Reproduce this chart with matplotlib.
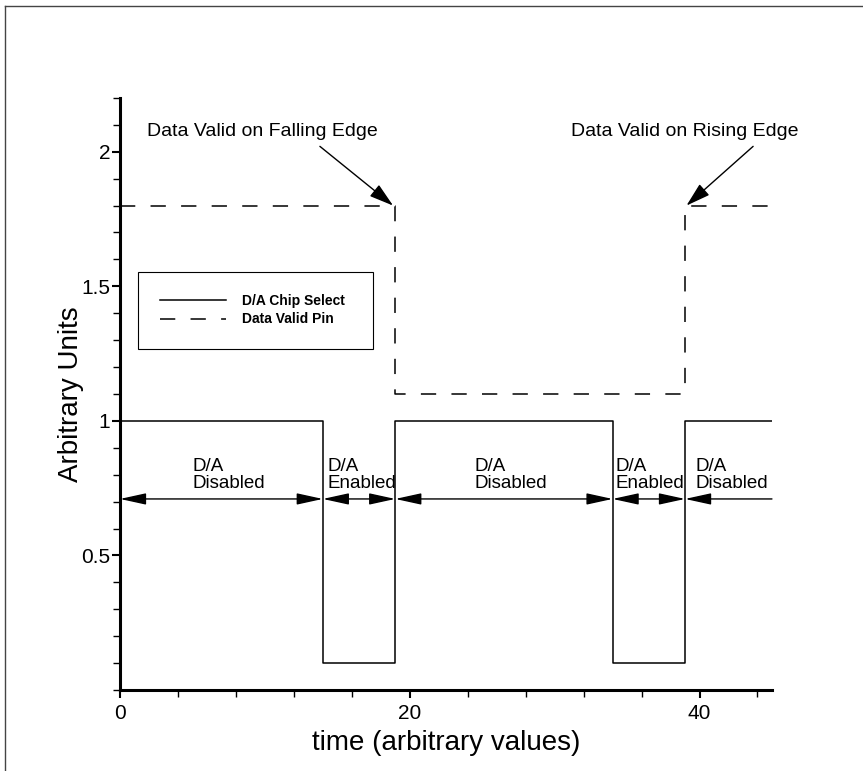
import numpy as np
import matplotlib
matplotlib.use('Agg')
import matplotlib.pyplot as plt
from matplotlib.lines import Line2D
from matplotlib.ticker import MultipleLocator, FuncFormatter

plt.rcParams['font.family'] = ['Liberation Sans', 'DejaVu Sans']

# signal data
t_select = [0, 14, 14, 19, 19, 34, 34, 39, 39, 45]
v_select = [1.0, 1.0, 0.1, 0.1, 1.0, 1.0, 0.1, 0.1, 1.0, 1.0]
t_valid = [0, 19, 19, 39, 39, 45]
v_valid = [1.8, 1.8, 1.1, 1.1, 1.8, 1.8]

# state spans (dimension arrows) and their labels
span_edges = [0, 14, 19, 34, 39]
span_end = 45
arrow_y = 0.71
state_labels = ["D/A\nDisabled", "D/A\nEnabled", "D/A\nDisabled", "D/A\nEnabled", "D/A\nDisabled"]
label_x = [5.0, 14.3, 24.5, 34.2, 39.7]
label_y = 0.735

fig = plt.figure(figsize=(8.63, 7.71), dpi=100)
ax = fig.add_axes([0.139, 0.105, 0.7555, 0.768])

ax.plot(t_select, v_select, color='black', lw=1.1, label='D/A Chip Select')
ax.plot(t_valid, v_valid, color='black', lw=1.1, dashes=[10, 10], label='Data Valid Pin')

head = dict(shrinkA=0, shrinkB=0, lw=1.0, color='black', mutation_scale=10)
for a, b in zip(span_edges[:-1], span_edges[1:]):
    ax.annotate('', xy=(b, arrow_y), xytext=(a, arrow_y),
                arrowprops=dict(arrowstyle='<|-|>,head_length=1.6,head_width=0.35', **head))
ax.annotate('', xy=(span_edges[-1], arrow_y), xytext=(span_end, arrow_y),
            arrowprops=dict(arrowstyle='-|>,head_length=1.6,head_width=0.35', **head))

for x, s in zip(label_x, state_labels):
    ax.text(x, label_y, s, ha='left', va='bottom', fontsize=13.5, linespacing=1.0)

# edge annotations
ax.annotate('', xy=(18.85, 1.80), xytext=(13.8, 2.02),
            arrowprops=dict(arrowstyle='-|>,head_length=1.5,head_width=0.45', **head))
ax.annotate('', xy=(39.1, 1.80), xytext=(43.7, 2.02),
            arrowprops=dict(arrowstyle='-|>,head_length=1.5,head_width=0.45', **head))
ax.text(1.9, 2.074, 'Data Valid on Falling Edge', ha='left', va='center', fontsize=14)
ax.text(31.1, 2.074, 'Data Valid on Rising Edge', ha='left', va='center', fontsize=14,
        clip_on=False)

ax.set_xlim(0, 45)
ax.set_ylim(0, 2.2)
ax.set_xticks([0, 20, 40])
ax.set_yticks([0.5, 1, 1.5, 2])
ax.xaxis.set_minor_locator(MultipleLocator(4))
ax.yaxis.set_minor_locator(MultipleLocator(0.1))
ax.yaxis.set_major_formatter(FuncFormatter(lambda v, p: f'{v:g}'))
ax.tick_params(which='major', length=6, width=1.5, labelsize=15, pad=1)
ax.tick_params(axis='x', which='major', pad=4)
ax.tick_params(which='minor', length=5, width=1.0)
for side in ['top', 'right']:
    ax.spines[side].set_visible(False)
for side in ['left', 'bottom']:
    ax.spines[side].set_linewidth(2.2)

ax.set_xlabel('time (arbitrary values)', fontsize=20, labelpad=5)
ax.set_ylabel('Arbitrary Units', fontsize=20, labelpad=-2)

leg = ax.legend(loc='upper left', bbox_to_anchor=(0.028, 0.574, 0.36, 0.132), mode='expand',
                fancybox=False, edgecolor='black', framealpha=1, borderaxespad=0,
                handlelength=4.7, handletextpad=1.2, borderpad=1.6, labelspacing=0.3,
                prop={'weight': 'bold', 'size': 10})
leg.get_frame().set_linewidth(0.8)

# scanned page border (top and left)
fig.add_artist(Line2D([0.006, 1.0], [0.992, 0.992], color='#444444', lw=1.0))
fig.add_artist(Line2D([0.006, 0.006], [0.0, 0.992], color='#444444', lw=1.0))

fig.savefig('out.png', dpi=100)
